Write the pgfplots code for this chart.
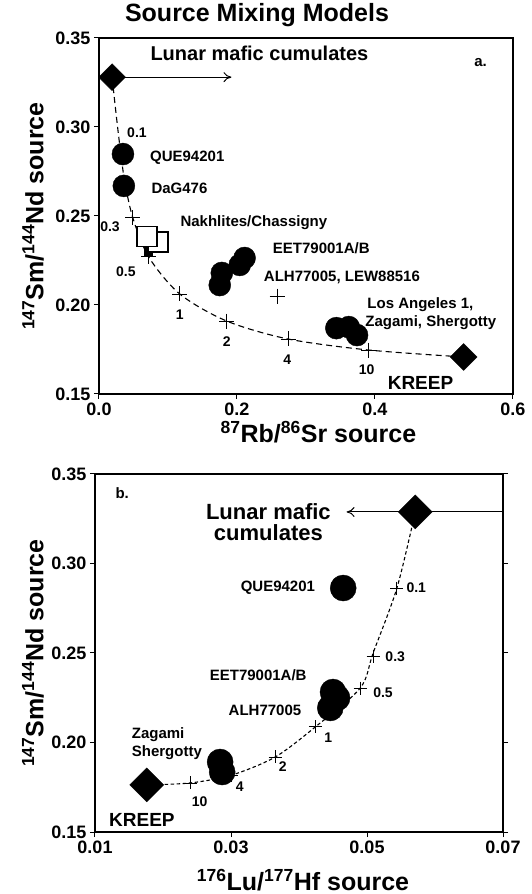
\documentclass[border=0pt]{standalone}
\usepackage{fontspec}
\setmainfont{Liberation Sans}
\usepackage{pgfplots}
\usetikzlibrary{arrows.meta}
\pgfplotsset{compat=1.18}
\newcommand\lab{\bfseries\fontsize{15}{15}\selectfont}
\newcommand\num{\bfseries\fontsize{14}{14}\selectfont}
\begin{document}
\begin{tikzpicture}
\path[use as bounding box] (0pt,0pt) rectangle (531pt,894pt);
\node[font=\bfseries\fontsize{25}{25}\selectfont] at (257pt,879pt) {Source Mixing Models};
\pgfplotsset{
  myax/.style={
    scale only axis, clip=false,
    axis line style={line width=1.6pt},
    tick style={line width=1pt, black},
    tick align=outside, major tick length=5pt,
    /pgf/number format/assume math mode=true,
    scaled x ticks=false, scaled y ticks=false,
    tick label style={font=\bfseries\fontsize{18}{18}\selectfont},
    label style={font=\bfseries\fontsize{25}{25}\selectfont},
    ymin=0.15, ymax=0.35,
    ytick={0.15,0.20,0.25,0.30,0.35},
    yticklabels={0.15,0.20,0.25,0.30,0.35},
    ylabel={\textsuperscript{147}Sm/\textsuperscript{144}Nd source},
  }
}
% ---------- panel a ----------
\begin{axis}[myax,
  at={(99pt,500pt)}, anchor=south west, width=414pt, height=356pt,
  xmin=0, xmax=0.6,
  xtick={0,0.2,0.4,0.6}, xticklabels={0.0,0.2,0.4,0.6},
  xtick pos=bottom, ytick pos=left,
  xlabel={\textsuperscript{87}Rb/\textsuperscript{86}Sr source},
  xlabel style={at={(axis description cs:0.53,-0.1376)}, anchor=base},
  ylabel style={at={(axis description cs:-0.159,0.5)}, anchor=center},
]
% mixing curve
\addplot[black, line width=1.1pt, dash pattern=on 6pt off 4pt, smooth]
  coordinates {(0.019,0.328) (0.024,0.31) (0.030,0.29) (0.037,0.27) (0.049,0.249)
  (0.072,0.227) (0.117,0.2062) (0.185,0.191) (0.274,0.1809) (0.391,0.1747) (0.5285,0.1708)};
% arrow
\addplot[black, line width=1pt, -{To[length=8pt,width=10pt]}] coordinates {(0.019,0.328) (0.192,0.328)};
% crosses
\addplot[only marks, mark=+, mark size=7.5pt, black, line width=0.9pt]
  coordinates {(0.049,0.2489) (0.072,0.227) (0.117,0.2062) (0.185,0.191) (0.274,0.1809) (0.391,0.1747) (0.258,0.205)};
% end members
\addplot[only marks, mark=square*, mark size=9.5pt, mark options={rotate=45, fill=black}, black]
  coordinates {(0.019,0.328) (0.5285,0.1708)};
% filled small square
\addplot[only marks, mark=square*, mark size=4pt, black] coordinates {(0.071,0.2303)};
% open squares
\addplot[only marks, mark=square*, mark size=10pt, mark options={fill=white, draw=black, line width=1.8pt}]
  coordinates {(0.085,0.2354)};
\addplot[only marks, mark=square*, mark size=10pt, mark options={fill=white, draw=black, line width=1.8pt}]
  coordinates {(0.070,0.2385)};
% circles
\addplot[only marks, mark=*, mark size=11pt, black]
  coordinates {(0.0347,0.2848) (0.036,0.2669)
  (0.211,0.2264) (0.204,0.2225) (0.178,0.218) (0.175,0.2112)
  (0.344,0.187) (0.362,0.1876) (0.374,0.1831)};
% labels
\node[font=\bfseries\fontsize{20}{20}\selectfont] at (axis cs:0.2325,0.3416) {Lunar mafic cumulates};
\node[font=\lab] at (axis cs:0.553,0.336) {a.};
\node[font=\lab, anchor=west] at (axis cs:0.069,0.2826) {QUE94201};
\node[font=\lab, anchor=west] at (axis cs:0.071,0.2657) {DaG476};
\node[font=\lab, anchor=west] at (axis cs:0.113,0.2461) {Nakhlites/Chassigny};
\node[font=\lab, anchor=west] at (axis cs:0.247,0.232) {EET79001A/B};
\node[font=\lab, anchor=west] at (axis cs:0.234,0.2157) {ALH77005, LEW88516};
\node[font=\lab, anchor=west] at (axis cs:0.384,0.2) {Los Angeles 1,};
\node[font=\lab, anchor=west] at (axis cs:0.381,0.1899) {Zagami, Shergotty};
\node[font=\num] at (axis cs:0.055,0.2966) {0.1};
\node[font=\num] at (axis cs:0.016,0.2438) {0.3};
\node[font=\num] at (axis cs:0.039,0.2185) {0.5};
\node[font=\num] at (axis cs:0.117,0.1944) {1};
\node[font=\num] at (axis cs:0.185,0.1792) {2};
\node[font=\num] at (axis cs:0.273,0.1691) {4};
\node[font=\num] at (axis cs:0.388,0.1635) {10};
\node[font=\bfseries\fontsize{19}{19}\selectfont] at (axis cs:0.466,0.1562) {KREEP};
\end{axis}
% ---------- panel b ----------
\begin{axis}[myax,
  at={(95pt,62pt)}, anchor=south west, width=408pt, height=358pt,
  xmin=0.01, xmax=0.07,
  xtick={0.01,0.03,0.05,0.07}, xticklabels={0.01,0.03,0.05,0.07},
  xtick pos=bottom, ytick pos=both,
  xlabel={\textsuperscript{176}Lu/\textsuperscript{177}Hf source},
  xlabel style={at={(axis description cs:0.51,-0.163)}, anchor=base},
  ylabel style={at={(axis description cs:-0.152,0.5)}, anchor=center},
]
\addplot[black, line width=1.1pt, dash pattern=on 3.5pt off 2.5pt, smooth]
  coordinates {(0.0176,0.1763) (0.024,0.1774) (0.0301,0.1818) (0.0365,0.1919)
  (0.0424,0.2087) (0.049,0.2304) (0.0509,0.25) (0.0544,0.2863) (0.0571,0.3288)};
\addplot[black, line width=1pt, {To[length=8pt,width=10pt]}-] coordinates {(0.047,0.3288) (0.07,0.3288)};
\addplot[only marks, mark=+, mark size=6.5pt, black, line width=0.9pt]
  coordinates {(0.024,0.1774) (0.0301,0.1818) (0.0365,0.1919) (0.0424,0.2087) (0.049,0.2304) (0.0509,0.2483) (0.0544,0.2863)};
\addplot[only marks, mark=square*, mark size=12pt, mark options={rotate=45, fill=black}, black]
  coordinates {(0.0571,0.3288) (0.0176,0.1763)};
\addplot[only marks, mark=*, mark size=13pt, black]
  coordinates {(0.0465,0.2863) (0.045,0.2282) (0.0456,0.2249) (0.0446,0.2193)
  (0.0284,0.1891) (0.0287,0.1835)};
\node[font=\bfseries\fontsize{22}{21}\selectfont, align=center] at (axis cs:0.0355,0.3232) {Lunar mafic\\cumulates};
\node[font=\lab] at (axis cs:0.014,0.3394) {b.};
\node[font=\lab] at (axis cs:0.0369,0.2863) {QUE94201};
\node[font=\lab] at (axis cs:0.034,0.2377) {EET79001A/B};
\node[font=\lab] at (axis cs:0.035,0.2182) {ALH77005};
\node[font=\lab, anchor=west] at (axis cs:0.0149,0.2042) {Zagami};
\node[font=\lab, anchor=west] at (axis cs:0.0149,0.1941) {Shergotty};
\node[font=\num, anchor=west] at (axis cs:0.0553,0.2863) {0.1};
\node[font=\num, anchor=west] at (axis cs:0.0522,0.2478) {0.3};
\node[font=\num, anchor=west] at (axis cs:0.0504,0.2277) {0.5};
\node[font=\num] at (axis cs:0.0443,0.2025) {1};
\node[font=\num] at (axis cs:0.0376,0.1863) {2};
\node[font=\num] at (axis cs:0.0313,0.1751) {4};
\node[font=\num] at (axis cs:0.0254,0.1668) {10};
\node[font=\bfseries\fontsize{19}{19}\selectfont] at (axis cs:0.0169,0.1567) {KREEP};
\end{axis}
\end{tikzpicture}
\end{document}
